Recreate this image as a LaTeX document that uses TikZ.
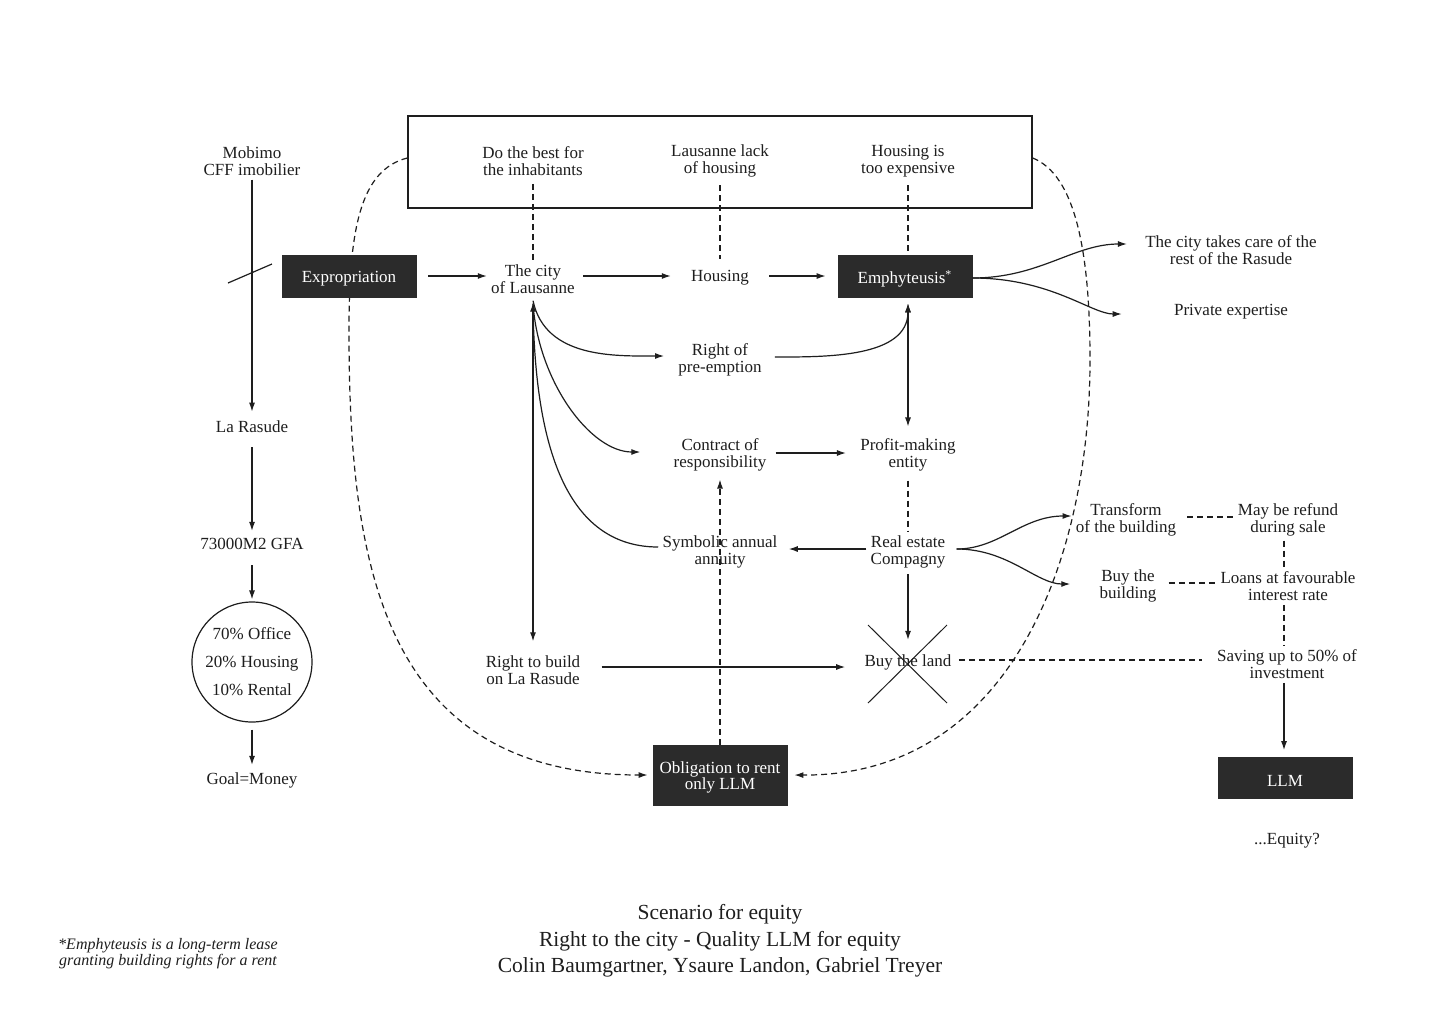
\documentclass[tikz,border=0pt]{standalone}
\usepackage{fontspec}
\setmainfont{Liberation Serif}
\usetikzlibrary{arrows.meta}
\definecolor{ink}{HTML}{1E1E1E}
\definecolor{boxfill}{HTML}{2B2B2B}
\newcommand\lowr[1]{\raisebox{-1.5pt}[\height][\depth]{#1}}
\pgfdeclarelayer{paper}
\pgfdeclarelayer{loops}
\pgfsetlayers{paper,loops,main}
\begin{document}
\begin{tikzpicture}[x=0.5pt,y=-0.5pt,
  font=\fontsize{8.5}{8.3}\selectfont,
  txt/.style={align=center, inner sep=2pt, text=ink, yshift=-1pt},
  dbox/.style={fill=boxfill, draw=boxfill, text=white, minimum width=67pt, minimum height=21pt, inner sep=0pt, align=center},
  tip/.tip={Latex[length=4.5pt,width=3pt]},
  line/.style={draw=ink, line width=0.6pt},
  arr/.style={line, -tip},
  arrs/.style={line, tip-tip},
  dsh/.style={line, dash pattern=on 3pt off 2pt}
]
\begin{pgfonlayer}{paper}
\fill[white] (0,0) rectangle (1440,1019);
\end{pgfonlayer}
\useasboundingbox (0,0) rectangle (1440,1019);

% top frame and its texts
\node[draw=ink, line width=0.7pt, minimum width=312pt, minimum height=46pt, inner sep=0pt] (top) at (720,162) {};
\node[txt] (best) at (533,159) {Do the best for\\the inhabitants};
\node[txt] (lack) at (720,159) {Lausanne lack\\of housing};
\node[txt] (expn) at (908,159) {Housing is\\too expensive};

% left column
\node[txt] (mob) at (252,159) {Mobimo\\CFF imobilier};
\node[txt] (ras) at (252,425) {La Rasude};
\node[txt] (gfa) at (252,542) {73000M2 GFA};
\node[circle, draw=ink, line width=0.6pt, minimum size=60pt, inner sep=0pt, align=center, text=ink, font=\fontsize{8.5}{14}\selectfont] (mix) at (252,662) {70\% Office\\20\% Housing\\10\% Rental};
\node[txt] (goal) at (252,778) {Goal=Money};

% main row
\node[dbox] (expr) at (349,276) {\lowr{Expropriation}};
\node[txt] (city) at (533,277) {The city\\of Lausanne};
\node[txt] (hous) at (720,276) {Housing};
\node[dbox] (emph) at (905,276) {\lowr{Emphyteusis\textsuperscript{*}}};
\node[txt] (care) at (1231,248) {The city takes care of the\\rest of the Rasude};
\node[txt] (priv) at (1231,310) {Private expertise};

% middle
\node[txt] (pre) at (720,358) {Right of\\pre-emption};
\node[txt] (con) at (720,453) {Contract of\\responsibility};
\node[txt] (prof) at (908,453) {Profit-making\\entity};
\node[txt] (sym) at (720,550) {Symbolic annual\\annuity};
\node[txt] (real) at (908,550) {Real estate\\Compagny};
\node[txt] (build) at (533,668) {Right to build\\on La Rasude};
\node[txt] (land) at (908,660) {Buy the land};
\node[dbox, minimum height=30pt] (obl) at (720,775) {\lowr{\begin{tabular}{@{}c@{}}Obligation to rent\\only LLM\end{tabular}}};

% right
\node[txt] (trans) at (1126,518) {Transform\\of the building};
\node[txt] (refund) at (1288,518) {May be refund\\during sale};
\node[txt] (bbuy) at (1128,584) {Buy the\\building};
\node[txt] (loans) at (1288,584) {Loans at favourable\\interest rate};
\node[txt] (save) at (1287,662) {Saving up to 50\% of\\investment};
\node[dbox, minimum height=20.5pt] (llm) at (1285,778) {\lowr{LLM}};
\node[txt] (eq) at (1287,839) {...Equity?};

% footer
\node[txt, font=\fontsize{10.75}{13.25}\selectfont] (title) at (720,939) {Scenario for equity\\Right to the city - Quality LLM for equity\\Colin Baumgartner, Ysaure Landon, Gabriel Treyer};
\node[txt, font=\itshape\fontsize{8}{8}\selectfont] (note) at (168,952) {*Emphyteusis is a long-term lease\\granting building rights for a rent};

% left column connectors
\draw[arr, shorten >=2.5pt] (mob) -- (ras);
\draw[arr, shorten <=5pt, shorten >=1.5pt] (ras) -- (gfa);
\draw[arr, shorten <=5.5pt, shorten >=1pt] (gfa) -- (mix);
\draw[arr, shorten <=3.5pt, shorten >=1.5pt] (mix) -- (goal);
\draw[line] (228,283) -- (272,264);

% main row connectors
\draw[arr, shorten <=6pt] (expr.east) -- (expr.east -| city.west);
\draw[arr, shorten <=2pt, shorten >=8pt] (city.east |- emph.west) -- (hous.west |- emph.west);
\draw[arr, shorten <=8pt, shorten >=6pt] (hous.east |- emph.west) -- (emph.west);
\draw[dsh, shorten <=2pt] (best.south) -- (city.north);
\draw[dsh, shorten <=2pt, shorten >=3.5pt] (lack.south) -- (hous.north);
\draw[dsh, shorten <=2pt] (expn.south) -- (expn.south |- emph.north);
\draw[arr, shorten >=7pt] ([yshift=-1pt]emph.east) to[out=0,in=180] ([yshift=3pt]care.west);
\draw[arr, shorten >=24pt] ([yshift=-1pt]emph.east) to[out=0,in=180] ([yshift=-1pt]priv.west);

% city branches
\draw[arrs, shorten <=2.5pt, shorten >=5pt] (city.south) -- (build.north);
\draw[arr, shorten >=5pt] ([yshift=-1.5pt]city.south) to[out=-78,in=180] ([yshift=2pt]pre.west);
\draw[arr, shorten >=14.5pt] ([yshift=-3pt]city.south) to[out=-86,in=180] ([yshift=1.5pt]con.west);
\draw[line] ([yshift=2.5pt]sym.west) to[out=180,in=-89] ([yshift=-5pt]city.south);

% middle connectors
\draw[arr, shorten <=4.5pt, shorten >=3pt] ([yshift=1.5pt]pre.east) to[out=0,in=-90] (prof.north |- emph.south);
\draw[arrs, shorten <=3pt, shorten >=4pt] (prof.north |- emph.south) -- (prof.north);
\draw[arr, shorten <=2.5pt, shorten >=5pt] ([yshift=1pt]con.east) -- ([yshift=1pt]prof.west);
\draw[dsh, shorten <=2.5pt] (prof.south) -- (real.north);
\draw[arr, shorten >=3.5pt] ([yshift=1.5pt]real.west) -- ([yshift=1.5pt]sym.east);
\draw[dsh, -tip, shorten >=2pt] (obl.north) -- (con.south);
\draw[arr, shorten <=1pt, shorten >=5pt] (real.south) -- (land.north);
\draw[arr, shorten <=8.5pt, shorten >=7.5pt] ([yshift=1.5pt]build.east) -- ([yshift=1.5pt]build.east -| land.west);
\draw[line, line width=0.5pt] (868,625) -- (947,703);
\draw[line, line width=0.5pt] (947,625) -- (868,703);
\draw[dsh, shorten <=1.5pt, shorten >=5.5pt] ([yshift=1pt]land.east) -- ([yshift=1pt]land.east -| save.west);

% right connectors
\draw[arr, shorten <=3.5pt] ([yshift=1.5pt]real.east) to[out=0,in=180] ([yshift=2pt]trans.west);
\draw[arr, shorten <=3.5pt, shorten >=12.5pt] ([yshift=1.5pt]real.east) to[out=0,in=180] ([yshift=1pt]bbuy.west);
\draw[dsh, shorten <=3.5pt] ([yshift=1.5pt]trans.east) -- ([yshift=1.5pt]refund.west);
\draw[dsh, shorten <=4pt] ([yshift=1.5pt]bbuy.east) -- ([yshift=1.5pt]bbuy.east -| loans.west);
\draw[dsh] ([xshift=-2pt]refund.south) -- ([xshift=-2pt]loans.north);
\draw[dsh] ([xshift=-2pt]loans.south) -- ([xshift=-1.5pt]save.north);
\draw[arr, shorten >=3.5pt] ([xshift=-1.5pt]save.south) -- ([xshift=-1.5pt]save.south |- llm.north);

% big dashed loops (behind the boxes)
\begin{pgfonlayer}{loops}
\draw[dsh, -tip, shorten >=2.5pt] ([yshift=2pt]top.west) .. controls (360,170) and (349,230) .. (349,330) .. controls (349,560) and (380,775) .. (obl.west);
\draw[dsh, -tip, shorten >=3.5pt] ([yshift=2pt]top.east) .. controls (1075,175) and (1090,250) .. (1090,360) .. controls (1090,560) and (1010,776) .. (obl.east);
\end{pgfonlayer}
\end{tikzpicture}
\end{document}
